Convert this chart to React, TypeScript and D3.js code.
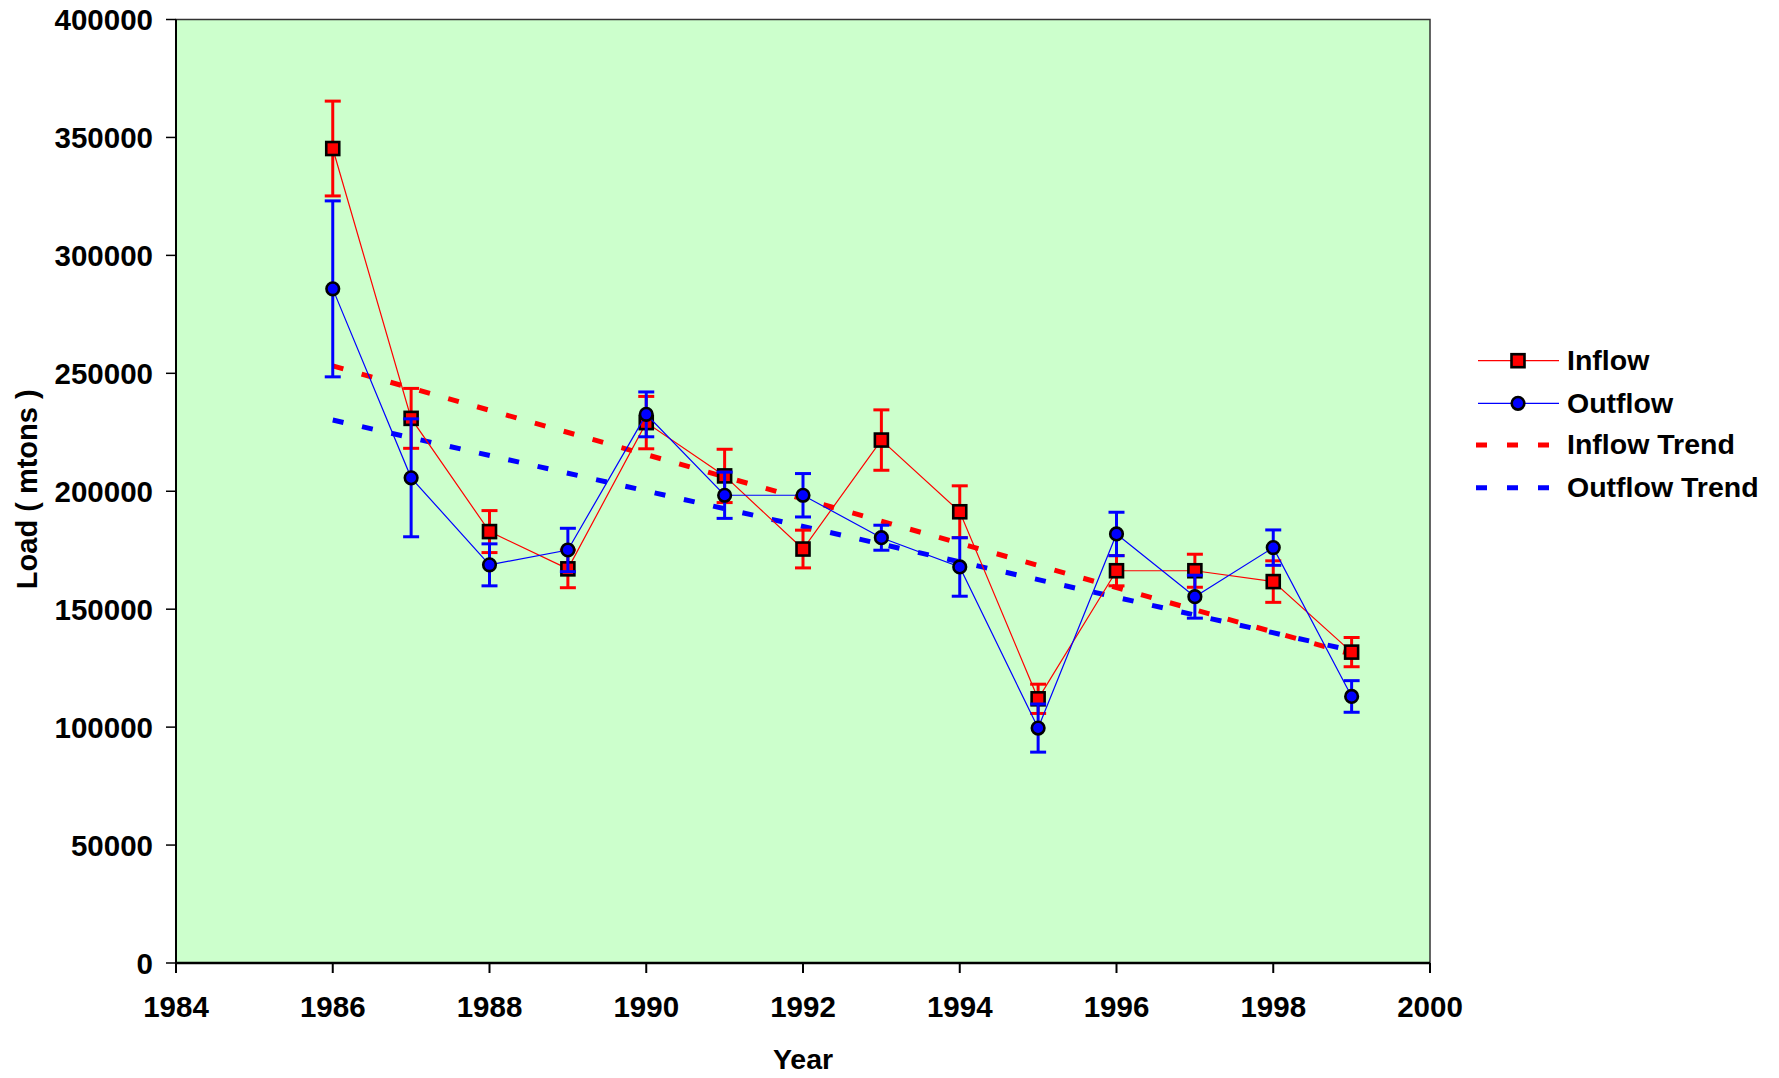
import React from "react";
import * as d3 from "d3";

// Annual loads (metric tons) with their error estimates
const years = [1986, 1987, 1988, 1989, 1990, 1991, 1992, 1993, 1994, 1995, 1996, 1997, 1998, 1999];
const inflow = [345300, 230900, 182900, 167100, 229100, 206500, 175500, 221700, 191300, 112000, 166300, 166300, 161700, 131800];
const inflowErr = [20100, 12700, 8900, 8000, 11100, 11300, 8000, 12800, 11000, 6200, 6400, 7000, 8800, 6200];
const outflow = [285800, 205700, 168800, 175100, 232600, 198300, 198300, 180300, 167900, 99600, 181900, 155300, 176100, 113000];
const outflowErr = [37300, 25000, 8900, 9200, 9500, 9800, 9200, 5300, 12400, 10200, 9200, 9100, 7500, 6700];

const xTicks = [1984, 1986, 1988, 1990, 1992, 1994, 1996, 1998, 2000];
const yTicks = [0, 50000, 100000, 150000, 200000, 250000, 300000, 350000, 400000];
const legendItems = ["Inflow", "Outflow", "Inflow Trend", "Outflow Trend"];

const W = 1779;
const H = 1078;
const M = { left: 176, right: 1430, top: 19.5, bottom: 963 };
const FONT = "'Liberation Sans', Arial, sans-serif";
const RED = "#FF0000";
const BLUE = "#0000FF";

// Least-squares linear trend, evaluated at the first and last year
function linearTrend(xs: number[], ys: number[]) {
  const mx = d3.mean(xs) as number;
  const my = d3.mean(ys) as number;
  let sxy = 0;
  let sxx = 0;
  xs.forEach((x, i) => {
    sxy += (x - mx) * (ys[i] - my);
    sxx += (x - mx) * (x - mx);
  });
  const b = sxy / sxx;
  const a = my - b * mx;
  const x0 = xs[0];
  const x1 = xs[xs.length - 1];
  return [
    [x0, a + b * x0],
    [x1, a + b * x1],
  ] as [number, number][];
}

export default function App() {
  const x = d3.scaleLinear().domain([1984, 2000]).range([M.left, M.right]);
  const y = d3.scaleLinear().domain([0, 400000]).range([M.bottom, M.top]);

  const line = d3
    .line<[number, number]>()
    .x((d) => x(d[0]))
    .y((d) => y(d[1]));

  const inPts = years.map((yr, i) => [yr, inflow[i]] as [number, number]);
  const outPts = years.map((yr, i) => [yr, outflow[i]] as [number, number]);
  const inTrend = linearTrend(years, inflow);
  const outTrend = linearTrend(years, outflow);

  const cap = 8;
  const errorBars = (vals: number[], errs: number[], color: string) =>
    years.map((yr, i) => {
      const cx = x(yr);
      const yt = y(vals[i] + errs[i]);
      const yb = y(vals[i] - errs[i]);
      return (
        <g key={`e${i}`} stroke={color} strokeWidth={3}>
          <line x1={cx} x2={cx} y1={yt} y2={yb} />
          <line x1={cx - cap} x2={cx + cap} y1={yt} y2={yt} />
          <line x1={cx - cap} x2={cx + cap} y1={yb} y2={yb} />
        </g>
      );
    });

  const square = (cx: number, cy: number, key: string) => (
    <rect key={key} x={cx - 6.5} y={cy - 6.5} width={13} height={13} fill={RED} stroke="#000" strokeWidth={2.6} />
  );
  const circle = (cx: number, cy: number, key: string) => (
    <circle key={key} cx={cx} cy={cy} r={6.3} fill={BLUE} stroke="#000" strokeWidth={2.6} />
  );

  const legendX0 = 1478;
  const legendX1 = 1559;
  const legendMid = 1518;
  const legendText = 1567;
  const legendRows = [360.7, 403.3, 445, 487.7];

  return (
    <div style={{ position: "absolute", left: 0, top: 0 }}>
      <svg width={W} height={H} style={{ display: "block", background: "#fff" }} fontFamily={FONT}>
        {/* plot area */}
        <rect x={M.left} y={M.top} width={M.right - M.left} height={M.bottom - M.top} fill="#CCFFCC" stroke="#333" strokeWidth={1.5} />

        {/* trend lines */}
        <g fill="none" strokeWidth={5} strokeDasharray="11,19">
          <path d={line(inTrend) || ""} stroke={RED} />
          <path d={line(outTrend) || ""} stroke={BLUE} />
        </g>

        {/* inflow series */}
        <path d={line(inPts) || ""} fill="none" stroke={RED} strokeWidth={1.2} />
        {errorBars(inflow, inflowErr, RED)}
        {inPts.map((p, i) => square(x(p[0]), y(p[1]), `s${i}`))}

        {/* outflow series */}
        <path d={line(outPts) || ""} fill="none" stroke={BLUE} strokeWidth={1.2} />
        {errorBars(outflow, outflowErr, BLUE)}
        {outPts.map((p, i) => circle(x(p[0]), y(p[1]), `c${i}`))}

        {/* axes */}
        <line x1={M.left} x2={M.left} y1={M.top} y2={M.bottom} stroke="#000" strokeWidth={2} />
        <line x1={M.left} x2={M.right} y1={M.bottom} y2={M.bottom} stroke="#000" strokeWidth={2.5} />
        {yTicks.map((t) => (
          <g key={`yt${t}`}>
            <line x1={M.left - 10} x2={M.left} y1={y(t)} y2={y(t)} stroke="#000" strokeWidth={1.5} />
            <text x={153} y={y(t)} dy="0.36em" textAnchor="end" fontSize={29.5} fontWeight="bold">
              {t}
            </text>
          </g>
        ))}
        {xTicks.map((t) => (
          <g key={`xt${t}`}>
            <line x1={x(t)} x2={x(t)} y1={M.bottom} y2={M.bottom + 10} stroke="#000" strokeWidth={2} />
            <text x={x(t)} y={1017} textAnchor="middle" fontSize={29.5} fontWeight="bold">
              {t}
            </text>
          </g>
        ))}

        {/* axis titles */}
        <text x={(M.left + M.right) / 2} y={1069} textAnchor="middle" fontSize={28.5} fontWeight="bold">
          Year
        </text>
        <text
          transform={`translate(37, ${(M.top + M.bottom) / 2 - 2}) rotate(-90)`}
          textAnchor="middle"
          fontSize={29}
          fontWeight="bold"
        >
          Load ( mtons )
        </text>

        {/* legend */}
        <g>
          <line x1={legendX0} x2={legendX1} y1={legendRows[0]} y2={legendRows[0]} stroke={RED} strokeWidth={1.2} />
          {square(legendMid, legendRows[0], "ls")}
          <line x1={legendX0} x2={legendX1} y1={legendRows[1]} y2={legendRows[1]} stroke={BLUE} strokeWidth={1.2} />
          {circle(legendMid, legendRows[1], "lc")}
          <line x1={1476} x2={1550} y1={legendRows[2]} y2={legendRows[2]} stroke={RED} strokeWidth={5} strokeDasharray="11,20" />
          <line x1={1476} x2={1550} y1={legendRows[3]} y2={legendRows[3]} stroke={BLUE} strokeWidth={5} strokeDasharray="11,20" />
          {legendItems.map((name, i) => (
            <text key={name} x={legendText} y={legendRows[i]} dy="0.33em" fontSize={28.5} fontWeight="bold">
              {name}
            </text>
          ))}
        </g>
      </svg>
    </div>
  );
}
